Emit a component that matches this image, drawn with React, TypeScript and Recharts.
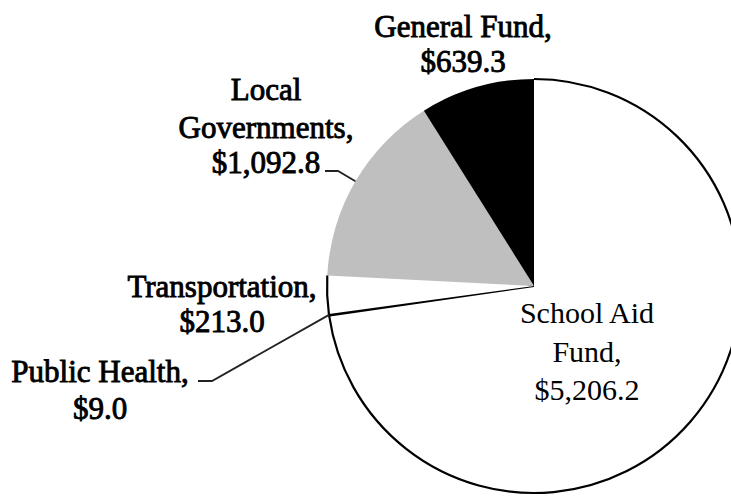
import React from 'react';
import { PieChart, Pie, Cell } from 'recharts';

// ---- data ----
const categories = ['School Aid Fund', 'Public Health', 'Transportation', 'Local Governments', 'General Fund'];
const values = [5206.2, 9.0, 213.0, 1092.8, 639.3];
const valueLabels = ['$5,206.2', '$9.0', '$213.0', '$1,092.8', '$639.3'];

const data = categories.map((name, i) => ({ name, value: values[i], valueLabel: valueLabels[i] }));

// ---- styles / layout (kept separate from data) ----
const FILLS = ['#ffffff', '#000000', '#ffffff', '#bfbfbf', '#000000'];
const OUTLINED = [true, true, true, false, false];
const FONT = '"Liberation Serif", "Times New Roman", serif';

type Layout = {
  x: number;
  baselines: number[];
  breakAfter: number; // words of the name on first line (0 = whole name on one line)
  leader?: [number, number][];
  heavy: boolean;
};

const LAYOUT: Layout[] = [
  { x: 587, baselines: [323, 362, 400], breakAfter: 2, heavy: false },
  { x: 100, baselines: [382, 419], breakAfter: 0, leader: [[212, 381], [198, 381]], heavy: true },
  { x: 222, baselines: [297, 332], breakAfter: 0, heavy: true },
  { x: 266, baselines: [100, 138, 173], breakAfter: 1, leader: [[338, 171], [325, 171]], heavy: true },
  { x: 463, baselines: [37, 72], breakAfter: 0, heavy: true },
];

const RAD = Math.PI / 180;

function pointAt(cx: number, cy: number, r: number, angle: number) {
  return { x: cx + r * Math.cos(-angle * RAD), y: cy + r * Math.sin(-angle * RAD) };
}

function renderLabel(props: any) {
  const { cx, cy, outerRadius, startAngle, endAngle, midAngle, index, payload } = props;
  const lay = LAYOUT[index];
  const name: string = payload.name + ',';
  const words = name.split(' ');
  const lines: string[] = [];
  if (lay.breakAfter > 0) {
    lines.push(words.slice(0, lay.breakAfter).join(' '));
    lines.push(words.slice(lay.breakAfter).join(' '));
  } else {
    lines.push(name);
  }
  lines.push(payload.valueLabel);

  const els: React.ReactNode[] = [];

  if (OUTLINED[index]) {
    const p0 = pointAt(cx, cy, outerRadius, startAngle);
    const p1 = pointAt(cx, cy, outerRadius, endAngle);
    const large = Math.abs(startAngle - endAngle) > 180 ? 1 : 0;
    els.push(
      <path
        key="arc"
        d={`M${p0.x},${p0.y} A${outerRadius},${outerRadius} 0 ${large} 1 ${p1.x},${p1.y}`}
        fill="none"
        stroke="#000"
        strokeWidth={2.2}
      />
    );
  }

  if (lay.leader) {
    const pe = pointAt(cx, cy, outerRadius, midAngle);
    const pts = [[pe.x, pe.y], ...lay.leader].map((p) => p.join(',')).join(' ');
    els.push(<polyline key="leader" points={pts} fill="none" stroke="#222" strokeWidth={1.8} />);
  }

  els.push(
    <text
      key="txt"
      textAnchor="middle"
      fontFamily={FONT}
      fontSize={lay.heavy ? 31 : 30}
      fill="#000"
      stroke={lay.heavy ? '#000' : 'none'}
      strokeWidth={lay.heavy ? 0.9 : 0}
    >
      {lines.map((t, i) => (
        <tspan key={i} x={lay.x} y={lay.baselines[i]}>
          {t}
        </tspan>
      ))}
    </text>
  );

  return <g key={`lab-${index}`}>{els}</g>;
}

export default function App() {
  return (
    <div style={{ position: 'absolute', left: 0, top: 0, width: 731, height: 497, background: '#fff', overflow: 'hidden' }}>
      <PieChart width={731} height={497} margin={{ top: 0, right: 0, bottom: 0, left: 0 }}>
        <Pie
          data={data}
          dataKey="value"
          nameKey="name"
          cx={534}
          cy={286}
          outerRadius={207}
          innerRadius={0}
          startAngle={90}
          endAngle={-270}
          stroke="none"
          isAnimationActive={false}
          labelLine={false}
          label={renderLabel}
        >
          {data.map((d, i) => (
            <Cell
              key={d.name}
              fill={FILLS[i]}
              stroke={i === 1 ? '#000' : 'none'}
              strokeWidth={i === 1 ? 1.8 : 0}
            />
          ))}
        </Pie>
      </PieChart>
    </div>
  );
}
